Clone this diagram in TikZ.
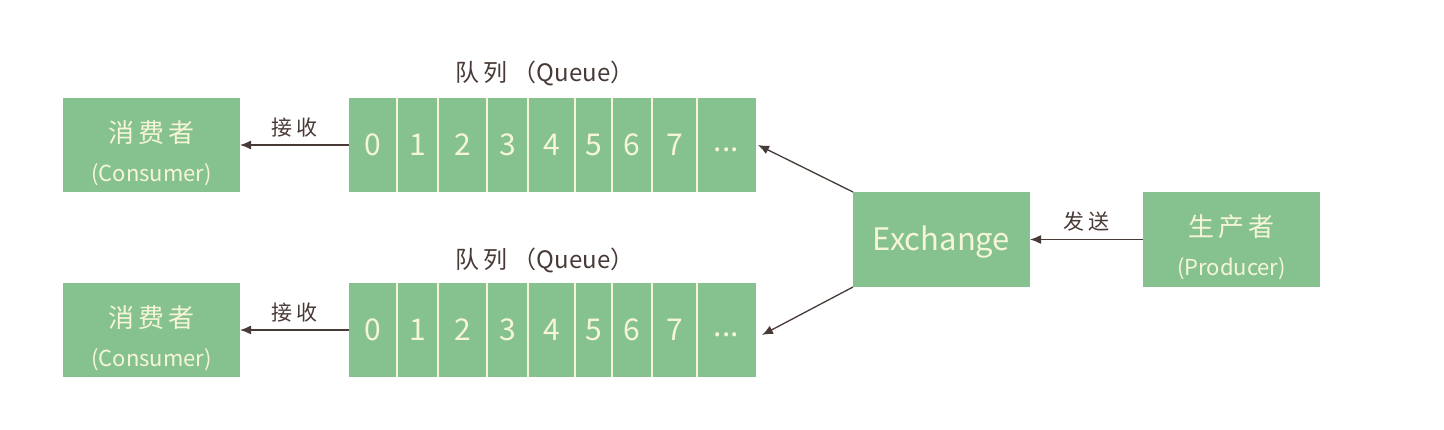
\documentclass[tikz,border=0pt]{standalone}
\usepackage{fontspec}
\setmainfont{Noto Sans CJK SC}
\usetikzlibrary{arrows.meta}
\definecolor{boxgreen}{RGB}{134,194,143}
\definecolor{boxtext}{RGB}{246,246,214}
\definecolor{arrowc}{RGB}{72,58,54}
\begin{document}
\begin{tikzpicture}[x=1pt,y=-1pt,
  gbox/.style={fill=boxgreen,draw=none,inner sep=0pt,outer sep=0pt,text=boxtext,align=center},
  cell/.style={gbox,minimum height=94pt,anchor=west,font=\fontsize{30}{32}\selectfont},
  sep/.style={draw=boxtext,line width=2pt},
  conn/.style={draw=arrowc,line width=1.3pt,-{Latex[length=11pt,width=9pt]}},
  lbl/.style={text=arrowc,font=\fontsize{21}{24}\selectfont}
]
\useasboundingbox (0,0) rectangle (1444,430);
\fill[white] (0,0) rectangle (1444,430);

% consumers
\node[gbox,minimum width=177pt,minimum height=94pt] (c1) at (151.5,145)
  {{\fontsize{26}{30}\selectfont\rule{0pt}{38pt}消\,费\,者}\\[18pt]{\fontsize{22}{24}\selectfont (Consumer)}};
\node[gbox,minimum width=177pt,minimum height=94pt] (c2) at (151.5,330)
  {{\fontsize{26}{30}\selectfont\rule{0pt}{38pt}消\,费\,者}\\[18pt]{\fontsize{22}{24}\selectfont (Consumer)}};

% queues
\foreach \q/\y in {a/145,b/330}{
  \node[cell,minimum width=48pt] (\q0) at (349,\y) {0};
  \node[cell,minimum width=41pt] (\q1) at (\q0.east) {1};
  \node[cell,minimum width=49pt] (\q2) at (\q1.east) {2};
  \node[cell,minimum width=41pt] (\q3) at (\q2.east) {3};
  \node[cell,minimum width=47pt] (\q4) at (\q3.east) {4};
  \node[cell,minimum width=37pt] (\q5) at (\q4.east) {5};
  \node[cell,minimum width=40pt] (\q6) at (\q5.east) {6};
  \node[cell,minimum width=45pt] (\q7) at (\q6.east) {7};
  \node[cell,minimum width=59pt] (\q8) at (\q7.east) {\raisebox{-7pt}[0pt][0pt]{...}};
  \foreach \i in {0,...,7}{
    \draw[sep] (\q\i.north east) -- (\q\i.south east);
  }
}
\node[lbl,font=\fontsize{24}{26}\selectfont] (qla) at (545,73) {队\,列 （Queue）};
\node[lbl,font=\fontsize{24}{26}\selectfont] (qlb) at (545,260) {队\,列 （Queue）};

% exchange and producer
\node[gbox,minimum width=177pt,minimum height=95pt,font=\fontsize{31}{34}\selectfont] (ex) at (941.5,239.5) {\rule{0pt}{30pt}Exchange};
\node[gbox,minimum width=177pt,minimum height=95pt] (pr) at (1231.5,239.5)
  {{\fontsize{26}{30}\selectfont\rule{0pt}{38pt}生\,产\,者}\\[18pt]{\fontsize{22}{24}\selectfont (Producer)}};

% connectors
\draw[conn] (a0.west) -- (c1.east) node[lbl,midway,above=4pt] (r1) {接\,收};
\draw[conn] (b0.west) -- (c2.east) node[lbl,midway,above=4pt] (r2) {接\,收};
\draw[conn] (ex.north west) -- ([xshift=2pt]a8.east);
\draw[conn] (ex.south west) -- ([xshift=6pt,yshift=-5pt]b8.east);
\draw[conn] (pr.west) -- (ex.east) node[lbl,midway,above=4pt] (s1) {发\,送};
\end{tikzpicture}
\end{document}
